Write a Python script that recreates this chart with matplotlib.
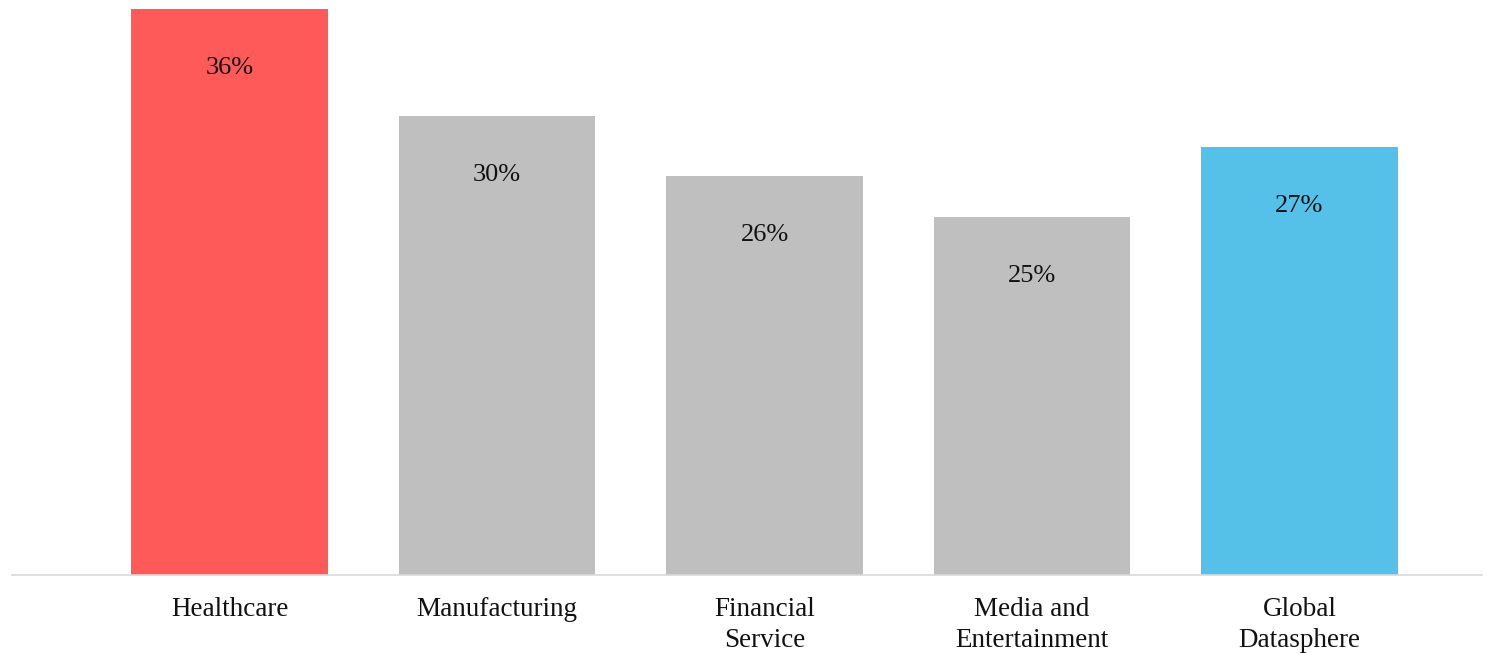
import matplotlib.pyplot as plt
import numpy as np

categories = ["Healthcare", "Manufacturing", "Financial\nService",
              "Media and\nEntertainment", "Global\nDatasphere"]
# bar heights, labels as printed on the bars
values = [36.0, 29.2, 25.4, 22.8, 27.2]
value_labels = ["36%", "30%", "26%", "25%", "27%"]
colors = ["#FF5A5A", "#BFBFBF", "#BFBFBF", "#BFBFBF", "#55C0E8"]

plt.rcParams["font.family"] = ["Liberation Serif", "DejaVu Serif"]

fig = plt.figure(figsize=(14.96, 6.53), dpi=100)
ax = fig.add_axes([12 / 1496, 78 / 653, 1470 / 1496, 575 / 653])

x = np.arange(len(categories))
bars = ax.bar(x, values, width=0.736, color=colors, zorder=2)

for b, lab in zip(bars, value_labels):
    ax.annotate(lab, (b.get_x() + b.get_width() / 2, b.get_height()),
                xytext=(0, -59), textcoords="offset pixels",
                ha="center", va="center", fontsize=19, color="#111111")

ax.set_xlim(-0.813, 4.682)
ax.set_ylim(0, 36.57)
ax.set_xticks(x)
ax.set_xticklabels(categories, fontsize=19.5, linespacing=1.32, color="#111111")
ax.tick_params(axis="x", length=0, pad=16)
ax.set_yticks([])
for s in ["top", "left", "right"]:
    ax.spines[s].set_visible(False)
ax.spines["bottom"].set_color("#D9D9D9")
ax.spines["bottom"].set_linewidth(1.2)

fig.savefig("out.png", dpi=100)
